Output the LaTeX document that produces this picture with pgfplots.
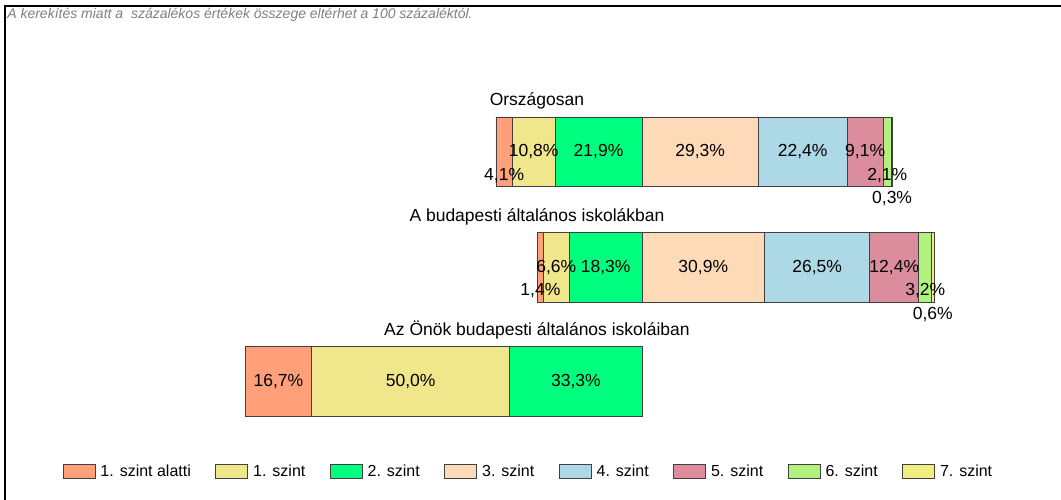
\documentclass[border=0pt]{standalone}
\usepackage{fontspec}
\setmainfont{Liberation Sans}
\usepackage{pgfplots}
\pgfplotsset{compat=1.18}
\definecolor{c0}{HTML}{FFA07A}
\definecolor{c1}{HTML}{F0E68C}
\definecolor{c2}{HTML}{00FF7F}
\definecolor{c3}{HTML}{FFDAB9}
\definecolor{c4}{HTML}{ADD8E6}
\definecolor{c5}{HTML}{DB8D9D}
\definecolor{c6}{HTML}{B0F27D}
\definecolor{c7}{HTML}{F0EE80}
\definecolor{edge}{HTML}{404040}
\newcommand{\lblfont}{\fontsize{17.5}{20}\selectfont}
\pgfplotsset{
  base/.style={
    at={(5pt,0pt)}, anchor=south west,
    scale only axis, width=1056pt, height=494pt,
    xmin=-60.57, xmax=205.62, ymin=0, ymax=494,
    hide axis, clip=false,
  }
}
\begin{document}
\begin{tikzpicture}[x=1pt,y=1pt]
\path[use as bounding box] (0,0) rectangle (1061,500);
\begin{axis}[
  base,
  xbar stacked, bar width=69.5,
  every axis plot post/.append style={
    legend image code/.code={\draw[##1, line width=0.8pt] (0pt,-7pt) rectangle (32pt,7pt);}
  },
  legend columns=8,
  legend style={draw=none, fill=none, at={(0.4957,0.0587)}, anchor=center,
    font=\fontsize{16}{19}\selectfont,
    /tikz/every odd column/.append style={column sep=3pt},
    /tikz/every even column/.append style={column sep=22.5pt}},
]
\draw[line width=1.5pt] (rel axis cs:0,0) -- (rel axis cs:0,1) -- (rel axis cs:1,1);
% invisible offset: the 2./3. szint boundary sits at x = 100
\addplot[draw=none, fill=none, forget plot] coordinates {(63.2,348.3) (73.7,232.8) (0,118.7)};
\addplot[fill=c0, draw=edge, line width=0.8pt] coordinates {(4.1,348.3) (1.4,232.8) (16.7,118.7)};
\addplot[fill=c1, draw=edge, line width=0.8pt] coordinates {(10.8,348.3) (6.6,232.8) (50.0,118.7)};
\addplot[fill=c2, draw=edge, line width=0.8pt] coordinates {(21.9,348.3) (18.3,232.8) (33.3,118.7)};
\addplot[fill=c3, draw=edge, line width=0.8pt] coordinates {(29.3,348.3) (30.9,232.8) (0,118.7)};
\addplot[fill=c4, draw=edge, line width=0.8pt] coordinates {(22.4,348.3) (26.5,232.8) (0,118.7)};
\addplot[fill=c5, draw=edge, line width=0.8pt] coordinates {(9.1,348.3) (12.4,232.8) (0,118.7)};
\addplot[fill=c6, draw=edge, line width=0.8pt] coordinates {(2.1,348.3) (3.2,232.8) (0,118.7)};
\addplot[fill=c7, draw=edge, line width=0.8pt] coordinates {(0.3,348.3) (0.6,232.8) (0,118.7)};
\legend{1. szint alatti, 1. szint, 2. szint, 3. szint, 4. szint, 5. szint, 6. szint, 7. szint}
\end{axis}
\begin{axis}[base]
\addplot[draw=none, mark=none, nodes near coords={\pgfplotspointmeta\%},
  point meta=explicit symbolic,
  nodes near coords style={anchor=center, font=\lblfont, text=black}]
  table[meta=lab] {
x y lab
65.25 324.3 4,1
72.7 348.3 10,8
89.05 348.3 21,9
114.65 348.3 29,3
140.5 348.3 22,4
156.25 348.3 9,1
161.85 324.3 2,1
163.05 301.0 0,3
74.4 209.2 1,4
78.4 232.8 6,6
90.85 232.8 18,3
115.45 232.8 30,9
144.15 232.8 26,5
163.6 232.8 12,4
171.4 209.2 3,2
173.3 185.0 0,6
8.35 118.7 16,7
41.7 118.7 50,0
83.35 118.7 33,3
};
\node[anchor=base, font=\lblfont] at (axis cs:73.53,394.0) {Országosan};
\node[anchor=base, font=\lblfont] at (axis cs:73.53,278.5) {A budapesti általános iskolákban};
\node[anchor=base, font=\lblfont] at (axis cs:73.53,164.4) {Az Önök budapesti általános iskoláiban};
\node[anchor=base west, inner sep=0pt, font=\fontsize{14}{16}\selectfont\itshape, text=gray] at (rel axis cs:0.002,0.9737) {A kerekítés miatt a\ \ százalékos értékek összege eltérhet a 100 százaléktól.};
\end{axis}
\end{tikzpicture}
\end{document}
